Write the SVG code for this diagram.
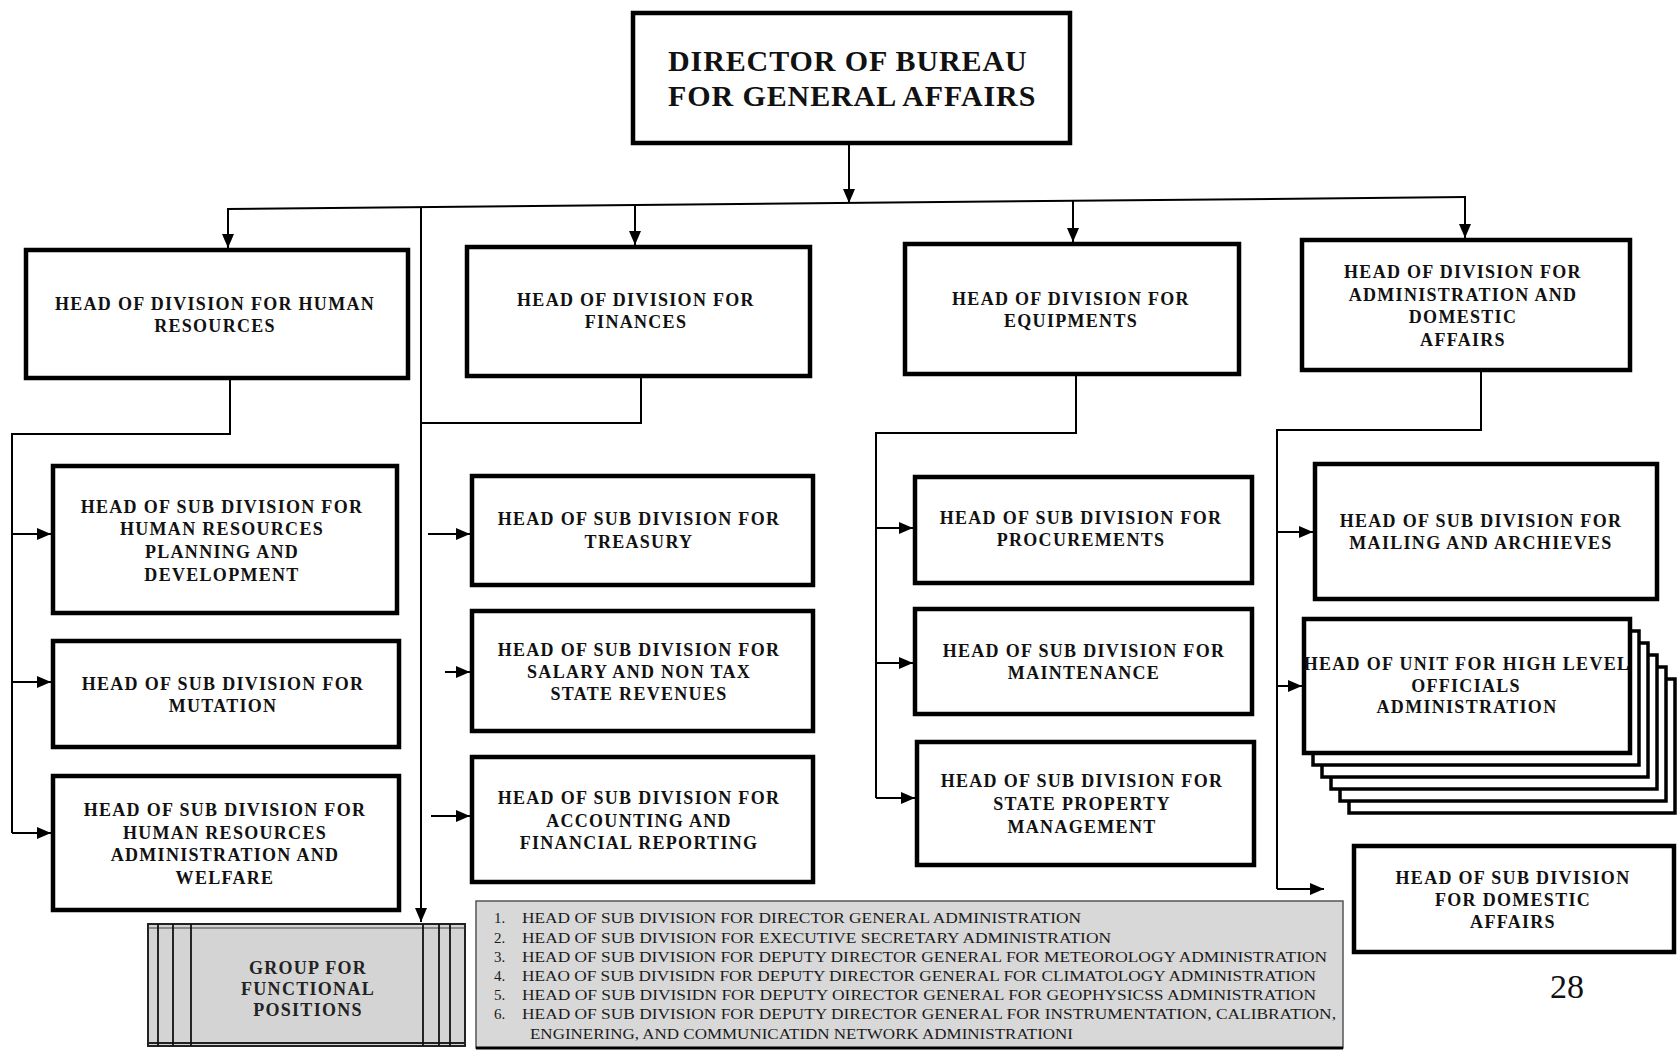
<svg xmlns="http://www.w3.org/2000/svg" width="1678" height="1050" viewBox="0 0 1678 1050">
<style>
.box{fill:#fff;stroke:#000;stroke-width:4.5}
.stk{fill:#fff;stroke:#000;stroke-width:3.5}
.ln{fill:none;stroke:#000;stroke-width:2}
.t{font-family:'Liberation Serif','Times New Roman',serif;font-weight:bold;font-size:18px;letter-spacing:1.3px;text-anchor:middle;fill:#111}
.dir{font-family:'Liberation Serif','Times New Roman',serif;font-weight:bold;font-size:30px;letter-spacing:0.9px;fill:#111}
.g{font-family:'Liberation Serif','Times New Roman',serif;font-weight:bold;font-size:18px;letter-spacing:1.3px;text-anchor:middle;fill:#222}
.l{font-family:'Liberation Serif','Times New Roman',serif;font-size:15px;fill:#1a1a1a}
.pg{font-family:'Liberation Serif','Times New Roman',serif;font-size:34px;text-anchor:middle;fill:#111}
</style>
<defs>
<marker id="ah" viewBox="0 0 14 12" refX="14" refY="6" markerWidth="14" markerHeight="12" markerUnits="userSpaceOnUse" orient="auto">
<path d="M0,0 L14,6 L0,12 z" fill="#000"/>
</marker>
</defs>
<rect width="1678" height="1050" fill="#fff"/>

<g id="connectors">
<line class="ln" x1="849" y1="145" x2="849" y2="203" marker-end="url(#ah)"/>
<line class="ln" x1="227" y1="209" x2="1466" y2="197" stroke-width="2.5"/>
<line class="ln" x1="228" y1="209" x2="228" y2="248" marker-end="url(#ah)"/>
<line class="ln" x1="635" y1="205" x2="635" y2="245" marker-end="url(#ah)"/>
<line class="ln" x1="1073" y1="201" x2="1073" y2="242" marker-end="url(#ah)"/>
<line class="ln" x1="1465" y1="197" x2="1465" y2="238" marker-end="url(#ah)"/>
<line class="ln" x1="421" y1="207" x2="421" y2="922" marker-end="url(#ah)"/>
<polyline class="ln" points="230,380 230,434 12,434 12,833"/>
<line class="ln" x1="12" y1="534" x2="51" y2="534" marker-end="url(#ah)"/>
<line class="ln" x1="12" y1="682" x2="51" y2="682" marker-end="url(#ah)"/>
<line class="ln" x1="12" y1="833" x2="51" y2="833" marker-end="url(#ah)"/>
<polyline class="ln" points="641,378 641,423 421,423"/>
<line class="ln" x1="428" y1="534" x2="470" y2="534" marker-end="url(#ah)"/>
<line class="ln" x1="445" y1="672" x2="470" y2="672" marker-end="url(#ah)"/>
<line class="ln" x1="431" y1="816" x2="470" y2="816" marker-end="url(#ah)"/>
<polyline class="ln" points="1076,376 1076,433 876,433 876,798"/>
<line class="ln" x1="876" y1="528" x2="913" y2="528" marker-end="url(#ah)"/>
<line class="ln" x1="876" y1="663" x2="913" y2="663" marker-end="url(#ah)"/>
<line class="ln" x1="876" y1="798" x2="915" y2="798" marker-end="url(#ah)"/>
<polyline class="ln" points="1481,372 1481,430 1277,430 1277,889"/>
<line class="ln" x1="1277" y1="532" x2="1313" y2="532" marker-end="url(#ah)"/>
<line class="ln" x1="1277" y1="686" x2="1302" y2="686" marker-end="url(#ah)"/>
<line class="ln" x1="1277" y1="889" x2="1324" y2="889" marker-end="url(#ah)"/>
</g>

<g id="director">
<rect class="box" x="633" y="13" width="437" height="130" stroke-width="5"/>
<text class="dir" x="668" y="71">DIRECTOR OF BUREAU</text>
<text class="dir" x="668" y="106">FOR GENERAL AFFAIRS</text>
</g>

<g id="div-hr">
<rect class="box" x="26" y="250" width="382" height="128"/>
<text class="t" x="215" y="310">HEAD OF DIVISION FOR HUMAN</text>
<text class="t" x="215" y="332">RESOURCES</text>
</g>
<g id="div-finances">
<rect class="box" x="467" y="247" width="343" height="129"/>
<text class="t" x="636" y="306">HEAD OF DIVISION FOR</text>
<text class="t" x="636" y="328">FINANCES</text>
</g>
<g id="div-equipments">
<rect class="box" x="905" y="244" width="334" height="130"/>
<text class="t" x="1071" y="305">HEAD OF DIVISION FOR</text>
<text class="t" x="1071" y="327">EQUIPMENTS</text>
</g>
<g id="div-admin">
<rect class="box" x="1302" y="240" width="328" height="130"/>
<text class="t" x="1463" y="278">HEAD OF DIVISION FOR</text>
<text class="t" x="1463" y="300.5">ADMINISTRATION AND</text>
<text class="t" x="1463" y="323">DOMESTIC</text>
<text class="t" x="1463" y="345.5">AFFAIRS</text>
</g>

<g id="sub-hr-planning">
<rect class="box" x="53" y="466" width="344" height="147"/>
<text class="t" x="222" y="513">HEAD OF SUB DIVISION FOR</text>
<text class="t" x="222" y="535">HUMAN RESOURCES</text>
<text class="t" x="222" y="558">PLANNING AND</text>
<text class="t" x="222" y="581">DEVELOPMENT</text>
</g>
<g id="sub-mutation">
<rect class="box" x="53" y="641" width="346" height="106"/>
<text class="t" x="223" y="690">HEAD OF SUB DIVISION FOR</text>
<text class="t" x="223" y="712">MUTATION</text>
</g>
<g id="sub-hr-admin">
<rect class="box" x="53" y="776" width="346" height="134"/>
<text class="t" x="225" y="816">HEAD OF SUB DIVISION FOR</text>
<text class="t" x="225" y="839">HUMAN RESOURCES</text>
<text class="t" x="225" y="861">ADMINISTRATION AND</text>
<text class="t" x="225" y="884">WELFARE</text>
</g>

<g id="sub-treasury">
<rect class="box" x="472" y="476" width="341" height="109"/>
<text class="t" x="639" y="525">HEAD OF SUB DIVISION FOR</text>
<text class="t" x="639" y="548">TREASURY</text>
</g>
<g id="sub-salary">
<rect class="box" x="472" y="611" width="341" height="120"/>
<text class="t" x="639" y="656">HEAD OF SUB DIVISION FOR</text>
<text class="t" x="639" y="678">SALARY AND NON TAX</text>
<text class="t" x="639" y="700">STATE REVENUES</text>
</g>
<g id="sub-accounting">
<rect class="box" x="472" y="757" width="341" height="125"/>
<text class="t" x="639" y="804">HEAD OF SUB DIVISION FOR</text>
<text class="t" x="639" y="827">ACCOUNTING AND</text>
<text class="t" x="639" y="849">FINANCIAL REPORTING</text>
</g>

<g id="sub-procurements">
<rect class="box" x="915" y="477" width="337" height="106"/>
<text class="t" x="1081" y="524">HEAD OF SUB DIVISION FOR</text>
<text class="t" x="1081" y="546">PROCUREMENTS</text>
</g>
<g id="sub-maintenance">
<rect class="box" x="915" y="609" width="337" height="105"/>
<text class="t" x="1084" y="657">HEAD OF SUB DIVISION FOR</text>
<text class="t" x="1084" y="679">MAINTENANCE</text>
</g>
<g id="sub-state-property">
<rect class="box" x="917" y="742" width="337" height="123"/>
<text class="t" x="1082" y="787">HEAD OF SUB DIVISION FOR</text>
<text class="t" x="1082" y="810">STATE PROPERTY</text>
<text class="t" x="1082" y="833">MANAGEMENT</text>
</g>

<g id="sub-mailing">
<rect class="box" x="1315" y="464" width="342" height="135"/>
<text class="t" x="1481" y="527">HEAD OF SUB DIVISION FOR</text>
<text class="t" x="1481" y="549">MAILING AND ARCHIEVES</text>
</g>
<g id="unit-high-level">
<rect class="stk" x="1349" y="679" width="326" height="134"/>
<rect class="stk" x="1340" y="667" width="326" height="134"/>
<rect class="stk" x="1331" y="655" width="326" height="134"/>
<rect class="stk" x="1322" y="643" width="326" height="134"/>
<rect class="stk" x="1313" y="631" width="326" height="134"/>
<rect class="box" x="1304" y="619" width="326" height="134"/>
<text class="t" x="1467" y="670">HEAD OF UNIT FOR HIGH LEVEL</text>
<text class="t" x="1466" y="692">OFFICIALS</text>
<text class="t" x="1467" y="713">ADMINISTRATION</text>
</g>
<g id="sub-domestic">
<rect class="box" x="1354" y="846" width="320" height="106"/>
<text class="t" x="1513" y="884">HEAD OF SUB DIVISION</text>
<text class="t" x="1513" y="906">FOR DOMESTIC</text>
<text class="t" x="1513" y="928">AFFAIRS</text>
</g>

<g id="functional-group">
<rect x="148" y="924" width="317" height="122" fill="#d4d4d4" stroke="#222" stroke-width="2"/>
<line x1="148" y1="928" x2="465" y2="928" stroke="#444" stroke-width="1"/>
<line x1="148" y1="1043" x2="465" y2="1043" stroke="#222" stroke-width="2"/>
<g stroke="#111" stroke-width="1.8">
<line x1="158" y1="924" x2="158" y2="1046"/>
<line x1="173" y1="924" x2="173" y2="1046"/>
<line x1="191" y1="924" x2="191" y2="1046"/>
<line x1="423" y1="924" x2="423" y2="1046"/>
<line x1="439" y1="924" x2="439" y2="1046"/>
<line x1="450" y1="924" x2="450" y2="1046"/>
</g>
<text class="g" x="308" y="974">GROUP FOR</text>
<text class="g" x="308" y="995">FUNCTIONAL</text>
<text class="g" x="308" y="1016">POSITIONS</text>
</g>

<g id="list-box">
<rect x="476" y="901" width="867" height="147" fill="#d8d8d8" stroke="#555" stroke-width="1.5"/>
<line x1="476" y1="1048" x2="1343" y2="1048" stroke="#000" stroke-width="3"/>
<text class="l" x="494" y="923">1.</text>
<text class="l" x="494" y="943">2.</text>
<text class="l" x="494" y="962">3.</text>
<text class="l" x="494" y="981">4.</text>
<text class="l" x="494" y="1000">5.</text>
<text class="l" x="494" y="1019">6.</text>
<text class="l" x="522" y="923" textLength="559" lengthAdjust="spacingAndGlyphs">HEAD OF SUB DIVISION FOR DIRECTOR GENERAL ADMINISTRATION</text>
<text class="l" x="522" y="943" textLength="589" lengthAdjust="spacingAndGlyphs">HEAD OF SUB DIVISION FOR EXECUTIVE SECRETARY ADMINISTRATION</text>
<text class="l" x="522" y="962" textLength="805" lengthAdjust="spacingAndGlyphs">HEAD OF SUB DIVISION FOR DEPUTY DIRECTOR GENERAL FOR METEOROLOGY ADMINISTRATION</text>
<text class="l" x="522" y="981" textLength="794" lengthAdjust="spacingAndGlyphs">HEAO OF SUB DIVISIDN FOR DEPUTY DIRECTOR GENERAL FOR CLIMATOLOGY ADMINISTRATION</text>
<text class="l" x="522" y="1000" textLength="794" lengthAdjust="spacingAndGlyphs">HEAD OF SUB DIVISIDN FOR DEPUTY OIRECTOR GENERAL FOR GEOPHYSICSS ADMINISTRATION</text>
<text class="l" x="522" y="1019" textLength="814" lengthAdjust="spacingAndGlyphs">HEAD OF SUB DIVISION FOR DEPUTY DIRECTOR GENERAL FOR INSTRUMENTATION, CALIBRATION,</text>
<text class="l" x="530" y="1039" textLength="543" lengthAdjust="spacingAndGlyphs">ENGINERING, AND COMMUNICATIDN NETWORK ADMINISTRATIONI</text>
</g>

<text class="pg" x="1567" y="998">28</text>
</svg>
